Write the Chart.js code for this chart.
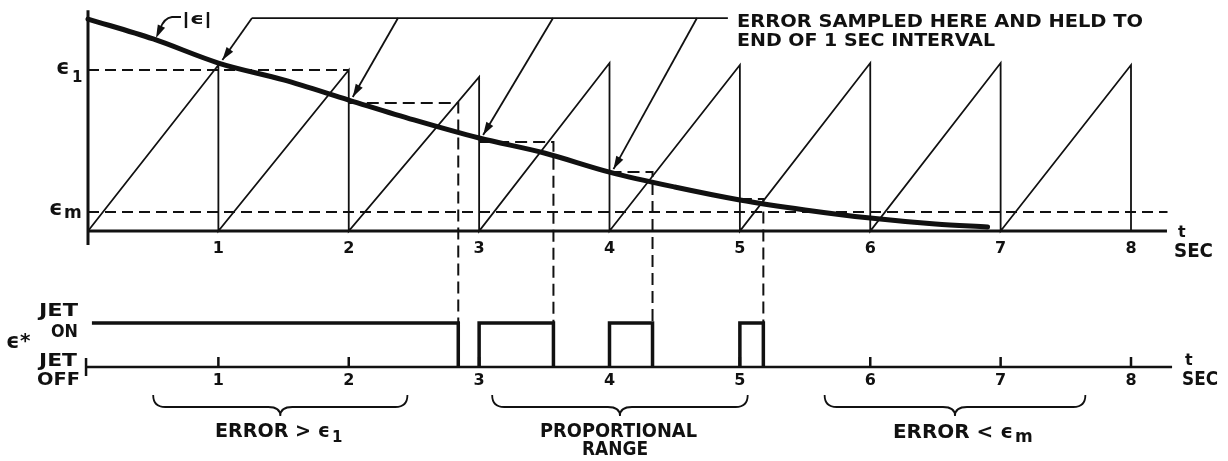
<!DOCTYPE html>
<html>
<head>
<meta charset="utf-8">
<script src="https://cdn.jsdelivr.net/npm/chart.js@4.4.1/dist/chart.umd.min.js"></script>
<style>
  html, body { margin: 0; padding: 0; background: #fff; }
  #wrap { position: relative; width: 1228px; height: 461px; }
</style>
</head>
<body>
<div id="wrap"><canvas id="chart"></canvas></div>
<script>
// time ticks (sec)
const seconds = [1, 2, 3, 4, 5, 6, 7, 8];
// sawtooth: peak reached at the end of each 1 sec interval
const rampPeaks = [10.0, 9.7, 9.28, 10.12, 10.0, 10.12, 10.12, 10.0];
// |e| decay curve
const errT = [0, 0.5, 1, 1.5, 2, 2.5, 3, 3.5, 4, 4.5, 5, 5.5, 6, 6.5, 6.9];
const errMag = [12.77, 11.57, 10.12, 9.10, 7.89, 6.69, 5.60, 4.70, 3.55, 2.65, 1.87, 1.27, 0.78, 0.42, 0.24];
// thresholds
const eps1 = 9.7;
const epsM = 1.14;
// sampled error held over the interval, and where the ramp crosses it
const sampleT = [2, 3, 4, 5];
const heldErr = [7.71, 5.36, 3.55, 1.93];
const cutoffT = [2.84, 3.57, 4.33, 5.18];
// leader arrows point at these samples
const arrowT = [1, 2, 3, 4];
// jet command levels
const jetOn = -5.54;
const jetOff = -8.19;
const jetStartT = 0.03;

const ink = '#111';
const FONT = "'DejaVu Sans', sans-serif";

const sawPts = [{ x: 0, y: 0 }];
rampPeaks.forEach((p, i) => sawPts.push({ x: i + 1, y: p }, { x: i + 1, y: 0 }));

const errPts = errT.map((t, i) => ({ x: t, y: errMag[i] }));

// one path per jet pulse
const pulses = sampleT.map((t0, i) => {
  const pts = [];
  if (i > 0) pts.push({ x: t0, y: jetOff });
  pts.push({ x: i === 0 ? jetStartT : t0, y: jetOn }, { x: cutoffT[i], y: jetOn }, { x: cutoffT[i], y: jetOff });
  return pts;
});

function line(data, width, dash) {
  return {
    data: data, showLine: true, borderColor: ink, borderWidth: width,
    borderDash: dash || [], pointRadius: 0, fill: false, borderCapStyle: 'butt'
  };
}

const datasets = [
  line(sawPts, 1.8),
  line([{ x: 0, y: eps1 }, { x: 2, y: eps1 }], 2, [11, 6]),
  line([{ x: 0, y: epsM }, { x: 8.28, y: epsM }], 2, [11, 6]),
  ...sampleT.map((t, i) => line([
    { x: t, y: heldErr[i] }, { x: cutoffT[i], y: heldErr[i] }, { x: cutoffT[i], y: jetOn }
  ], 2, [12, 6])),
  ...pulses.map(p => line(p, 3.5)),
  Object.assign(line(errPts, 5), { tension: 0.4, cubicInterpolationMode: 'monotone', borderCapStyle: 'round' })
];

function label(ctx, str, x, y, size, width, align) {
  ctx.font = 'bold ' + size + 'px ' + FONT;
  const w = ctx.measureText(str).width;
  const sx = width ? width / w : 1;
  ctx.save();
  ctx.translate(x, y);
  ctx.scale(sx, 1);
  ctx.textAlign = align || 'left';
  ctx.textBaseline = 'alphabetic';
  ctx.fillText(str, 0, 0);
  ctx.restore();
}

function arrowHead(ctx, fx, fy, tx, ty) {
  const a = Math.atan2(ty - fy, tx - fx);
  const len = 13, hw = 4;
  ctx.beginPath();
  ctx.moveTo(tx, ty);
  ctx.lineTo(tx - len * Math.cos(a) + hw * Math.sin(a), ty - len * Math.sin(a) - hw * Math.cos(a));
  ctx.lineTo(tx - len * Math.cos(a) - hw * Math.sin(a), ty - len * Math.sin(a) + hw * Math.cos(a));
  ctx.closePath();
  ctx.fill();
}

function brace(ctx, x0, x1, yTop, yMid, yTip) {
  const xm = (x0 + x1) / 2;
  ctx.beginPath();
  ctx.moveTo(x0, yTop);
  ctx.quadraticCurveTo(x0, yMid, x0 + 12, yMid);
  ctx.lineTo(xm - 12, yMid);
  ctx.quadraticCurveTo(xm, yMid, xm, yTip);
  ctx.quadraticCurveTo(xm, yMid, xm + 12, yMid);
  ctx.lineTo(x1 - 12, yMid);
  ctx.quadraticCurveTo(x1, yMid, x1, yTop);
  ctx.stroke();
}

const drawing = {
  id: 'drawing',
  afterDatasetsDraw(chart) {
    const { ctx, scales: { x, y } } = chart;
    const X = v => x.getPixelForValue(v);
    const Y = v => y.getPixelForValue(v);
    ctx.save();
    ctx.strokeStyle = ink;
    ctx.fillStyle = ink;
    ctx.lineCap = 'butt';

    // top axes
    ctx.lineWidth = 3;
    ctx.beginPath();
    ctx.moveTo(X(0), Y(13.3)); ctx.lineTo(X(0), Y(0) + 14);
    ctx.moveTo(X(0), Y(0)); ctx.lineTo(X(8.276), Y(0));
    ctx.stroke();
    seconds.forEach(s => label(ctx, String(s), X(s), Y(0) + 22, 16, 0, 'center'));
    label(ctx, 't', X(8.276) + 11, Y(0) + 6, 16);
    label(ctx, 'SEC', X(8.276) + 7, Y(0) + 26, 19, 39);

    // bottom axis
    ctx.lineWidth = 2.5;
    ctx.beginPath();
    ctx.moveTo(X(-0.015), Y(jetOff)); ctx.lineTo(X(8.315), Y(jetOff));
    ctx.moveTo(X(-0.015), Y(jetOff) - 9); ctx.lineTo(X(-0.015), Y(jetOff) + 9);
    seconds.forEach(s => { ctx.moveTo(X(s), Y(jetOff)); ctx.lineTo(X(s), Y(jetOff) - 10); });
    ctx.stroke();
    seconds.forEach(s => label(ctx, String(s), X(s), Y(jetOff) + 18, 16, 0, 'center'));
    label(ctx, 't', X(8.315) + 13, Y(jetOff) - 2, 16);
    label(ctx, 'SEC', X(8.315) + 10, Y(jetOff) + 18, 19, 36);

    // left labels
    label(ctx, 'ϵ', 56, Y(eps1) + 4, 21);
    label(ctx, '1', 72, Y(eps1) + 12, 15);
    label(ctx, 'ϵ', 49, Y(epsM) + 3, 21);
    label(ctx, 'm', 64, Y(epsM) + 6, 17);
    label(ctx, 'JET', 39, Y(jetOn) - 7, 18, 39);
    label(ctx, 'ON', 51, Y(jetOn) + 14, 18, 27);
    label(ctx, 'ϵ', 6, 348, 21);
    label(ctx, '*', 20, 347, 20);
    label(ctx, 'JET', 39, Y(jetOff) - 1, 18, 38);
    label(ctx, 'OFF', 37, Y(jetOff) + 18, 18, 43);

    // leader for the sampling note
    const yLead = Y(12.83);
    const tails = [1.258, 2.378, 3.567, 4.671];
    ctx.lineWidth = 1.8;
    ctx.beginPath();
    ctx.moveTo(X(1.258), yLead); ctx.lineTo(X(4.908), yLead);
    ctx.stroke();
    arrowT.forEach((t, i) => {
      const tv = errMag[errT.indexOf(t)];
      const tx = X(t) + 4, ty = Y(tv) - 3;
      const fx = X(tails[i]), fy = yLead;
      ctx.beginPath();
      ctx.moveTo(fx, fy); ctx.lineTo(tx, ty);
      ctx.stroke();
      arrowHead(ctx, fx, fy, tx, ty);
    });
    label(ctx, 'ERROR SAMPLED HERE AND HELD TO', 737, 27, 18, 406);
    label(ctx, 'END OF 1 SEC INTERVAL', 737, 46, 18, 258);

    // |e| tag
    ctx.beginPath();
    ctx.moveTo(181, 17); ctx.lineTo(172, 17);
    ctx.quadraticCurveTo(164, 18, 160, 29);
    ctx.stroke();
    arrowHead(ctx, 162, 25, 156, 38);
    label(ctx, '|ϵ|', 182, 24, 16, 30);

    // braces and range captions
    ctx.lineWidth = 1.8;
    brace(ctx, X(0.5), X(2.45), 395, 407, 416);
    brace(ctx, X(3.1), X(5.06), 395, 407, 416);
    brace(ctx, X(5.65), X(7.65), 395, 407, 416);
    label(ctx, 'ERROR > ϵ', 215, 437, 20, 115);
    label(ctx, '1', 332, 442, 15);
    label(ctx, 'PROPORTIONAL', 540, 437, 20, 157);
    label(ctx, 'RANGE', 582, 455, 20, 66);
    label(ctx, 'ERROR < ϵ', 893, 438, 20, 120);
    label(ctx, 'm', 1015, 442, 17);

    ctx.restore();
  }
};

new Chart(document.getElementById('chart'), {
  type: 'scatter',
  data: { datasets: datasets },
  options: {
    responsive: true,
    maintainAspectRatio: false,
    animation: false,
    layout: { padding: 0 },
    plugins: { legend: { display: false }, tooltip: { enabled: false } },
    scales: {
      x: { type: 'linear', min: -0.675, max: 8.744, display: false },
      y: { type: 'linear', min: -13.855, max: 13.916, display: false }
    }
  },
  plugins: [drawing]
});
</script>
</body>
</html>
